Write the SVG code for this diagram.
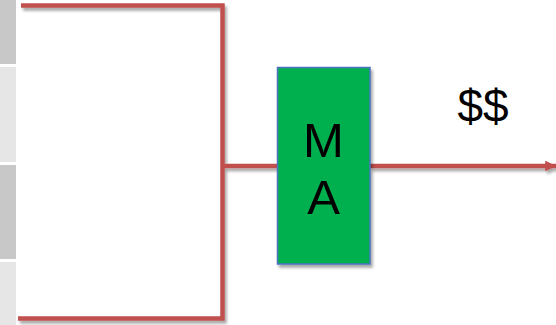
<svg xmlns="http://www.w3.org/2000/svg" width="556" height="325" viewBox="0 0 556 325">
<defs>
<filter id="sh" x="-10%" y="-10%" width="130%" height="130%">
<feGaussianBlur in="SourceAlpha" stdDeviation="1.5"/>
<feOffset dx="2" dy="3" result="b"/>
<feComponentTransfer><feFuncA type="linear" slope="0.35"/></feComponentTransfer>
<feMerge><feMergeNode/><feMergeNode in="SourceGraphic"/></feMerge>
</filter>
<marker id="ah" viewBox="0 0 10 10" refX="10" refY="5" markerWidth="2.4" markerHeight="2.4" orient="auto" markerUnits="strokeWidth">
<path d="M0,0 L10,5 L0,10 z" fill="#c0504d"/>
</marker>
<style>
.ln{fill:none;stroke:#c0504d;stroke-width:4.5}
.lbl{font-family:"Liberation Sans",Arial,sans-serif;fill:#000}
</style>
</defs>
<rect width="556" height="325" fill="#ffffff"/>
<g id="strip">
<rect x="0" y="0" width="16" height="64" fill="#c8c8c8"/>
<rect x="0" y="67" width="16" height="95" fill="#e6e6e6"/>
<rect x="0" y="165" width="16" height="94" fill="#c8c8c8"/>
<rect x="0" y="262" width="16" height="63" fill="#e6e6e6"/>
</g>
<g id="connectors" filter="url(#sh)">
<path class="ln" d="M21,5.5 H222.5 V318.5 H18"/>
<path class="ln" d="M222.5,166 H277"/>
<path class="ln" d="M370,166 H556" marker-end="url(#ah)"/>
</g>
<g id="MA">
<rect x="277.5" y="67.5" width="92.5" height="196.5" fill="#00b050" stroke="#4a72c0" stroke-width="1.5" filter="url(#sh)"/>
<text class="lbl" x="323.5" y="157" font-size="49" text-anchor="middle">M</text>
<text class="lbl" x="323.5" y="214" font-size="49" text-anchor="middle">A</text>
</g>
<g id="money">
<text class="lbl" x="483" y="122" font-size="46" text-anchor="middle">$$</text>
</g>
</svg>
